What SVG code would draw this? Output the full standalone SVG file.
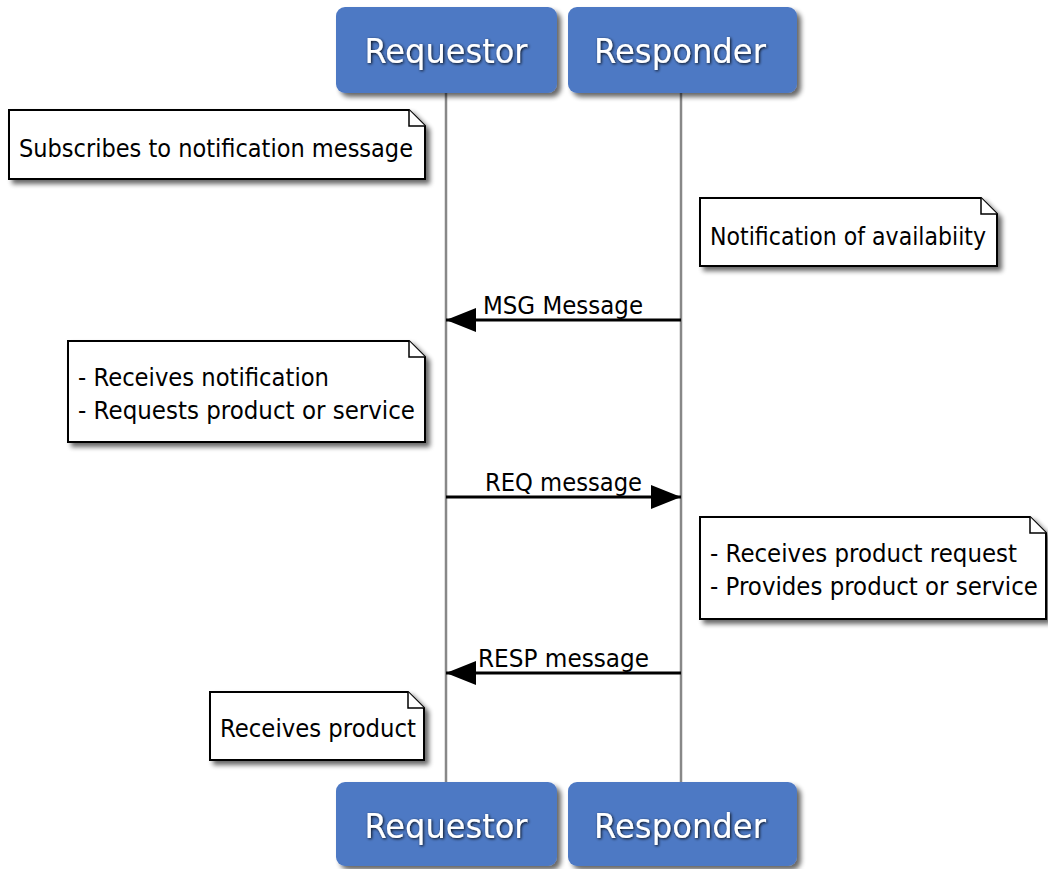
<svg xmlns="http://www.w3.org/2000/svg" width="1048" height="869" viewBox="0 0 1048 869">
  <defs>
    <filter id="shadow" x="-10%" y="-20%" width="130%" height="160%">
      <feGaussianBlur in="SourceAlpha" stdDeviation="2.5"/>
      <feOffset dx="4" dy="4" result="b"/>
      <feComponentTransfer><feFuncA type="linear" slope="0.6"/></feComponentTransfer>
      <feMerge><feMergeNode/><feMergeNode in="SourceGraphic"/></feMerge>
    </filter>
    <filter id="glow" x="-10%" y="-30%" width="120%" height="160%">
      <feGaussianBlur in="SourceAlpha" stdDeviation="1.6"/>
      <feOffset dx="1" dy="1"/>
      <feComponentTransfer><feFuncA type="linear" slope="0.9"/></feComponentTransfer>
      <feMerge><feMergeNode/><feMergeNode in="SourceGraphic"/></feMerge>
    </filter>
    <marker id="head" viewBox="0 0 30 24" refX="30" refY="12" markerWidth="30" markerHeight="24" markerUnits="userSpaceOnUse" orient="auto">
      <path d="M0,0 L30,12 L0,24 Z" fill="#000"/>
    </marker>
  </defs>
  <style>
    .actor rect { fill: #4e79c4; }
    .actor text { font-family: "DejaVu Sans", sans-serif; font-size: 34px; fill: #ffffff; text-anchor: middle; }
    .note path { fill: #ffffff; stroke: #000000; stroke-width: 2; }
    .note .fold { fill: #ffffff; stroke: #000000; stroke-width: 1.5; }
    text.t { font-family: "DejaVu Sans", sans-serif; font-size: 24px; fill: #000000; }
    .life { stroke: #888888; stroke-width: 2.5; fill: none; }
    .msg { stroke: #000000; stroke-width: 3; fill: none; marker-end: url(#head); }
  </style>

  <rect width="1048" height="869" fill="#ffffff"/>

  <!-- lifelines -->
  <g id="lifelines">
    <line class="life" x1="446" y1="93" x2="446" y2="782"/>
    <line class="life" x1="681" y1="93" x2="681" y2="782"/>
  </g>

  <!-- participants, top and bottom -->
  <g id="requestor-top" class="actor">
    <rect x="336" y="7" width="221" height="86" rx="9" filter="url(#shadow)"/>
    <text x="446" y="63" textLength="163" lengthAdjust="spacingAndGlyphs" filter="url(#glow)">Requestor</text>
  </g>
  <g id="responder-top" class="actor">
    <rect x="568" y="7" width="229" height="86" rx="9" filter="url(#shadow)"/>
    <text x="680" y="63" textLength="172" lengthAdjust="spacingAndGlyphs" filter="url(#glow)">Responder</text>
  </g>
  <g id="requestor-bottom" class="actor">
    <rect x="336" y="782" width="221" height="84" rx="9" filter="url(#shadow)"/>
    <text x="446" y="838" textLength="163" lengthAdjust="spacingAndGlyphs" filter="url(#glow)">Requestor</text>
  </g>
  <g id="responder-bottom" class="actor">
    <rect x="568" y="782" width="229" height="84" rx="9" filter="url(#shadow)"/>
    <text x="680" y="838" textLength="172" lengthAdjust="spacingAndGlyphs" filter="url(#glow)">Responder</text>
  </g>

  <!-- messages -->
  <g id="connectors">
    <line class="msg" x1="681" y1="320" x2="446" y2="320"/>
    <text class="t" x="483" y="314" textLength="160" lengthAdjust="spacingAndGlyphs">MSG Message</text>
    <line class="msg" x1="446" y1="497" x2="681" y2="497"/>
    <text class="t" x="485" y="491" textLength="157" lengthAdjust="spacingAndGlyphs">REQ message</text>
    <line class="msg" x1="681" y1="673" x2="446" y2="673"/>
    <text class="t" x="478" y="667" textLength="171" lengthAdjust="spacingAndGlyphs">RESP message</text>
  </g>

  <!-- notes -->
  <g id="note-subscribe" class="note">
    <path d="M9,110 H409 L425,126 V179 H9 Z" filter="url(#shadow)"/>
    <path class="fold" d="M409,110 V126 H425"/>
    <text class="t" x="19" y="157" textLength="394" lengthAdjust="spacingAndGlyphs">Subscribes to notification message</text>
  </g>
  <g id="note-availability" class="note">
    <path d="M700,198 H981 L997,214 V266 H700 Z" filter="url(#shadow)"/>
    <path class="fold" d="M981,198 V214 H997"/>
    <text class="t" x="710" y="245" textLength="276" lengthAdjust="spacingAndGlyphs">Notification of availabiity</text>
  </g>
  <g id="note-request" class="note">
    <path d="M68,341 H409 L425,357 V442 H68 Z" filter="url(#shadow)"/>
    <path class="fold" d="M409,341 V357 H425"/>
    <text class="t" x="78" y="386" textLength="251" lengthAdjust="spacingAndGlyphs">- Receives notification</text>
    <text class="t" x="78" y="419" textLength="337" lengthAdjust="spacingAndGlyphs">- Requests product or service</text>
  </g>
  <g id="note-provide" class="note">
    <path d="M700,517 H1030 L1046,533 V619 H700 Z" filter="url(#shadow)"/>
    <path class="fold" d="M1030,517 V533 H1046"/>
    <g transform="translate(710 0) scale(0.955 1)">
      <text class="t" x="0" y="562">- Receives product request</text>
      <text class="t" x="0" y="595">- Provides product or service</text>
    </g>
  </g>
  <g id="note-receive" class="note">
    <path d="M210,692 H408 L424,708 V760 H210 Z" filter="url(#shadow)"/>
    <path class="fold" d="M408,692 V708 H424"/>
    <text class="t" x="220" y="737" textLength="196" lengthAdjust="spacingAndGlyphs">Receives product</text>
  </g>
</svg>
